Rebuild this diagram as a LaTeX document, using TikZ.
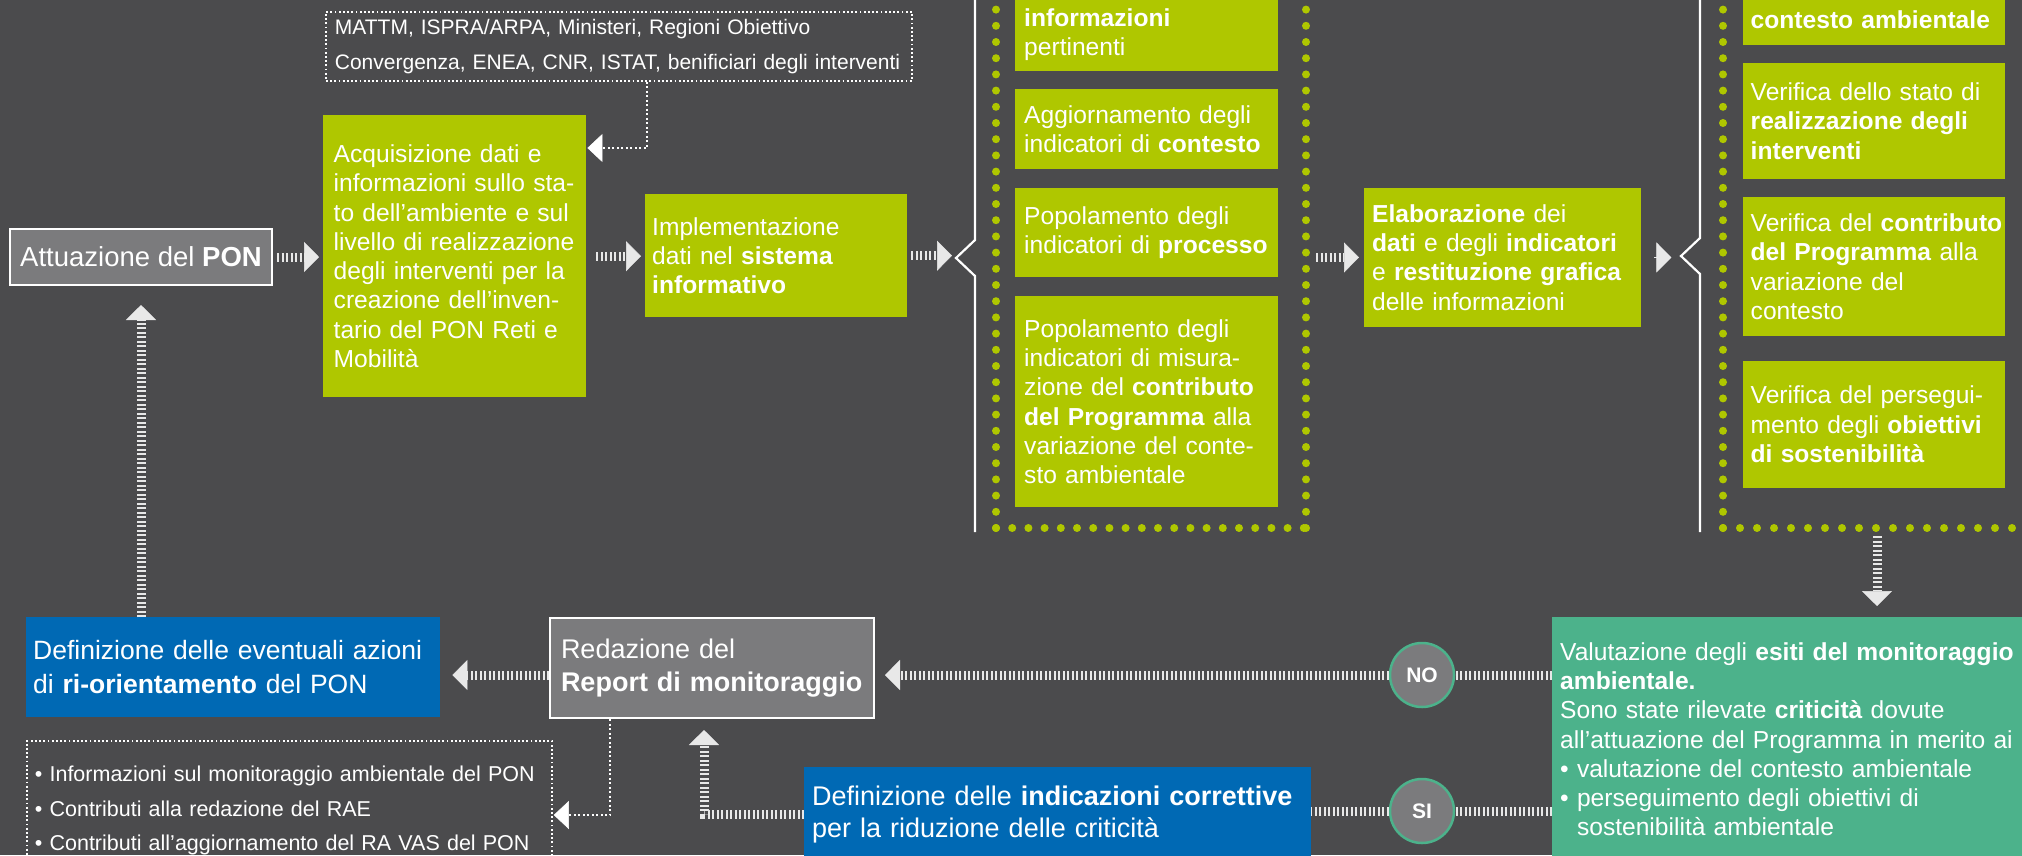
\documentclass[tikz,border=0pt]{standalone}
\usepackage{fontspec}
\setmainfont{Liberation Sans}
\usetikzlibrary{arrows.meta}
\hyphenpenalty=10000
\exhyphenpenalty=10000
\definecolor{bgc}{HTML}{4B4B4D}
\definecolor{lime}{HTML}{AFC700}
\definecolor{pblue}{HTML}{0069B4}
\definecolor{tealc}{HTML}{4CB28B}
\definecolor{boxgray}{HTML}{7B7B7D}
\definecolor{hatchc}{HTML}{E8E8E8}
\newcommand\jl[1]{\makebox[\linewidth][s]{#1}}
\newcommand\fLime{\fontsize{24.6}{29.3}\selectfont}
\newcommand\fBlueA{\fontsize{26.5}{34}\selectfont}
\newcommand\fBlueB{\fontsize{27}{32}\selectfont}
\newcommand\fRed{\fontsize{27}{33}\selectfont}
\newcommand\fAtt{\fontsize{27.5}{33}\selectfont}
\newcommand\fSrc{\fontsize{21}{35}\selectfont}
\newcommand\fOut{\fontsize{21.5}{34.5}\selectfont}
\newcommand\fRing{\bfseries\fontsize{21}{21}\selectfont}
\begin{document}
\begin{tikzpicture}[x=1pt,y=-1pt,
  limebox/.style={fill=lime, anchor=north west, inner ysep=0pt, align=left, font=\fLime, text=white},
  bluebox/.style={fill=pblue, anchor=north west, inner ysep=0pt, align=left, text=white},
  graybox/.style={fill=boxgray, draw=white, line width=2pt, anchor=north west, inner ysep=0pt, align=left, text=white},
  dotbox/.style={draw=white, line width=1.8pt, dash pattern=on 1.8pt off 2.4pt, anchor=north west, inner ysep=0pt, align=left, text=white},
  tealbox/.style={fill=tealc, anchor=north west, inner ysep=0pt, align=left, font=\fLime, text=white},
  ring/.style={circle, fill=boxgray, draw=tealc, line width=2.5pt, minimum size=64pt, inner sep=0pt, font=\fRing, text=white},
  hline/.style={draw=hatchc, line width=9pt, dash pattern=on 2pt off 2.5pt},
  harrow/.style={hline, -{Triangle[length=15pt,width=30pt,line width=0.5pt]}},
  darrow/.style={draw=white, line width=2pt, dash pattern=on 2pt off 2.5pt, -{Triangle[length=15pt,width=28pt,line width=0.5pt]}},
  bracket/.style={draw=white, line width=2.2pt, line join=miter},
  dots/.style={draw=lime, line width=8pt, line cap=round, dash pattern=on 0pt off 16.2pt}
]
\useasboundingbox (0,0) rectangle (2022,855);
\clip (0,0) rectangle (2022,855);
\fill[bgc] (0,0) rectangle (2022,855);

% dotted frames and brackets
\draw[dots] (996,528) -- (996,-10);
\draw[dots] (996,528) -- (1306,528);
\draw[dots] (1306,528) -- (1306,-10);
\draw[dots] (1723,528) -- (1723,-10);
\draw[dots, dash pattern=on 0pt off 17pt] (1723,528) -- (2040,528);
\draw[bracket] (975,-5) -- (975,240) -- (956,258) -- (975,276) -- (975,532);
\draw[bracket] (1700,-5) -- (1700,238) -- (1681,256) -- (1700,274) -- (1700,532);

% nodes
\node[dotbox, font=\fSrc, inner xsep=9pt, text width=568pt, minimum height=69pt] (src1) at (325,11)
  {MATTM, ISPRA/ARPA, Ministeri, Regioni Obiettivo\\\mbox{Convergenza, ENEA, CNR, ISTAT, benificiari degli interventi}};
\node[graybox, font=\fAtt, minimum width=262pt, minimum height=56pt, inner xsep=0pt] (att) at (9,228)
  {Attuazione del \textbf{PON}};
\node[limebox, inner xsep=10.5pt, text width=242pt, minimum height=282pt] (acq) at (323,115)
  {Acquisizione dati e\\
   \jl{informazioni sullo sta-}\\
   \jl{to dell’ambiente e sul}\\
   \jl{livello di realizzazione}\\
   \jl{degli interventi per la}\\
   \jl{creazione dell’inven-}\\
   \jl{tario del PON Reti e}\\
   Mobilità};
\node[limebox, inner xsep=7pt, text width=248pt, minimum height=123pt] (impl) at (645,194)
  {Implementazione\\dati nel \textbf{sistema}\\\textbf{informativo}};

\node[limebox, inner xsep=9pt, text width=245pt, minimum height=73pt] (ca) at (1015,-2)
  {\textbf{informazioni}\\pertinenti};
\node[limebox, inner xsep=9pt, text width=245pt, minimum height=80pt] (cb) at (1015,89)
  {Aggiornamento degli\\\mbox{indicatori di \textbf{contesto}}};
\node[limebox, inner xsep=9pt, text width=245pt, minimum height=89pt] (cc) at (1015,188)
  {Popolamento degli\\\mbox{indicatori di \textbf{processo}}};
\node[limebox, inner xsep=9pt, text width=245pt, minimum height=211pt] (cd) at (1015,296)
  {Popolamento degli\\
   \jl{indicatori di misura-}\\
   \jl{zione del \textbf{contributo}}\\
   \jl{\textbf{del Programma} alla}\\
   \jl{variazione del conte-}\\
   sto ambientale};

\node[limebox, inner xsep=8pt, text width=261pt, minimum height=139.5pt] (elab) at (1364,187.5)
  {\textbf{Elaborazione} dei\\
   \jl{\textbf{dati} e degli \textbf{indicatori}}\\
   \jl{e \textbf{restituzione grafica}}\\
   delle informazioni};

\node[limebox, inner xsep=7.5pt, text width=247pt, minimum height=50pt] (ce) at (1743,-5)
  {\mbox{\textbf{contesto ambientale}}};
\node[limebox, inner xsep=7.5pt, text width=247pt, minimum height=116pt] (cf) at (1743,63)
  {Verifica dello stato di\\\textbf{realizzazione degli}\\\textbf{interventi}};
\node[limebox, inner xsep=7.5pt, text width=247pt, minimum height=139pt] (cg) at (1743,197)
  {\jl{Verifica del \textbf{contributo}}\\
   \jl{\textbf{del Programma} alla}\\
   variazione del\\
   contesto};
\node[limebox, inner xsep=7.5pt, text width=247pt, minimum height=126.5pt] (ch) at (1743,361)
  {\jl{Verifica del persegui-}\\
   \jl{mento degli \textbf{obiettivi}}\\
   \textbf{di sostenibilità}};

\node[tealbox, inner xsep=8pt, text width=520pt, minimum height=244pt] (val) at (1552,617)
  {Valutazione degli \textbf{esiti del monitoraggio}\\
   \textbf{ambientale.}\\
   Sono state rilevate \textbf{criticità} dovute\\
   all’attuazione del Programma in merito ai\\
   • valutazione del contesto ambientale\\
   • perseguimento degli obiettivi di\\
   \hphantom{•\ }sostenibilità ambientale};

\node[bluebox, font=\fBlueA, inner xsep=7pt, text width=400pt, minimum height=100pt] (def1) at (26,617)
  {\mbox{Definizione delle eventuali azioni}\\di \textbf{ri-orientamento} del PON};
\node[graybox, font=\fRed, inner xsep=11pt, text width=302pt, minimum height=100pt] (red) at (549,617)
  {Redazione del\\\mbox{\textbf{Report di monitoraggio}}};
\node[bluebox, font=\fBlueB, inner xsep=8pt, text width=491pt, minimum height=95pt] (def2) at (804,767)
  {\mbox{Definizione delle \textbf{indicazioni correttive}}\\per la riduzione delle criticità};
\node[dotbox, font=\fOut, inner xsep=8pt, text width=509pt, minimum height=140pt] (out) at (26,740)
  {\mbox{• Informazioni sul monitoraggio ambientale del PON}\\
   \mbox{• Contributi alla redazione del RAE}\\
   \mbox{• Contributi all’aggiornamento del RA VAS del PON}};

\node[ring] (no) at (1422,675) {NO};
\node[ring] (si) at (1422,811) {SI};

% helper coordinates
\coordinate (n1) at (956,258);
\coordinate (f1r) at (1306,0);
\coordinate (dn) at (1877,536);
\coordinate (c2) at (704,0);
\coordinate (k1) at (647,148);
\coordinate (k2) at (610,815);

% connectors
\draw[harrow, shorten <=4pt, shorten >=4pt] (att.east) -- (att.east -| acq.west);
\draw[harrow, shorten <=10pt, shorten >=4pt] (acq.east) -- (acq.east -| impl.west);
\draw[harrow, shorten <=4pt, shorten >=4pt] (impl.east) -- (impl.east -| n1);
\draw[harrow, shorten <=10pt, shorten >=5pt] (elab.west -| f1r) -- (elab.west);
\draw[hatchc, line width=0.5pt, -{Triangle[length=15pt,width=30pt,line width=0.5pt]}]
  ([xshift=13pt]elab.east) -- ([xshift=30pt]elab.east);
\draw[harrow, shorten >=11pt] (dn) -- (dn |- val.north);
\draw[hline] (no -| val.west) -- (no.east);
\draw[harrow, shorten >=10pt] (no.west) -- (no -| red.east);
\draw[hline] (si -| val.west) -- (si.east);
\draw[hline] (si.west) -- (si -| def2.east);
\draw[harrow, shorten >=11pt] (def2.west) -- (def2.west -| c2) -- (c2 |- red.south);
\draw[harrow, shorten >=12pt] (no -| red.west) -- (no -| def1.east);
\draw[harrow, shorten >=19pt] (att.south |- def1.north) -- (att.south);
\draw[darrow, shorten >=1pt] (k1 |- src1.south) -- (k1) -- (k1 -| acq.east);
\draw[darrow, shorten >=1pt] (k2 |- red.south) -- (k2) -- (k2 -| out.east);
\end{tikzpicture}
\end{document}
